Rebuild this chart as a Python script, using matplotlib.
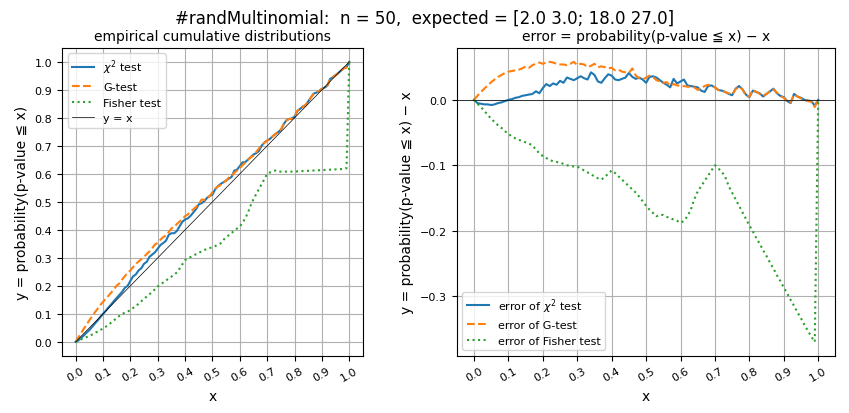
import numpy as np
import matplotlib
matplotlib.use("Agg")
import matplotlib.pyplot as plt

# grid of x values 0.00 .. 1.00
x = np.round(np.arange(0, 101) / 100, 2)

# error = probability(p-value <= x) - x
err_chi2 = [
    0.000, -0.005, -0.006, -0.007, -0.007, -0.008, -0.007, -0.005, -0.004, -0.002,
    0.000, 0.001, 0.003, 0.004, 0.006, 0.007, 0.008, 0.009, 0.013, 0.010,
    0.018, 0.024, 0.021, 0.025, 0.023, 0.029, 0.026, 0.034, 0.032, 0.030,
    0.033, 0.036, 0.033, 0.031, 0.042, 0.038, 0.028, 0.026, 0.033, 0.039,
    0.037, 0.031, 0.030, 0.032, 0.034, 0.041, 0.035, 0.032, 0.034, 0.031,
    0.026, 0.035, 0.036, 0.034, 0.030, 0.026, 0.023, 0.019, 0.032, 0.025,
    0.028, 0.031, 0.022, 0.021, 0.020, 0.019, 0.014, 0.012, 0.021, 0.022,
    0.019, 0.015, 0.014, 0.012, 0.009, 0.007, 0.017, 0.021, 0.016, 0.008,
    0.004, 0.014, 0.012, 0.010, 0.005, 0.009, 0.013, 0.017, 0.010, 0.006,
    0.004, -0.002, -0.005, 0.009, 0.005, 0.003, 0.000, -0.001, -0.002, -0.009,
    0.000,
]
err_g = [
    0.000, 0.006, 0.012, 0.017, 0.022, 0.027, 0.031, 0.035, 0.038, 0.041,
    0.043, 0.044, 0.045, 0.046, 0.048, 0.051, 0.049, 0.053, 0.055, 0.057,
    0.055, 0.057, 0.058, 0.057, 0.055, 0.054, 0.054, 0.053, 0.055, 0.058,
    0.053, 0.055, 0.054, 0.050, 0.052, 0.055, 0.050, 0.051, 0.050, 0.048,
    0.049, 0.045, 0.046, 0.043, 0.042, 0.041, 0.048, 0.037, 0.033, 0.031,
    0.034, 0.037, 0.035, 0.030, 0.028, 0.026, 0.027, 0.022, 0.024, 0.022,
    0.021, 0.021, 0.020, 0.020, 0.019, 0.015, 0.018, 0.021, 0.023, 0.021,
    0.019, 0.015, 0.014, 0.012, 0.010, 0.008, 0.016, 0.020, 0.016, 0.006,
    0.005, 0.015, 0.012, 0.009, 0.006, 0.009, 0.013, 0.016, 0.011, 0.006,
    0.003, -0.003, -0.004, 0.008, 0.005, 0.002, 0.000, -0.002, -0.003, -0.011,
    0.000,
]
err_fisher = [
    0.000, -0.006, -0.011, -0.017, -0.023, -0.029, -0.034, -0.039, -0.043, -0.048,
    -0.052, -0.056, -0.059, -0.061, -0.063, -0.065, -0.067, -0.070, -0.076, -0.082,
    -0.086, -0.089, -0.092, -0.094, -0.095, -0.096, -0.098, -0.100, -0.101, -0.102,
    -0.102, -0.105, -0.108, -0.111, -0.114, -0.117, -0.120, -0.122, -0.118, -0.113,
    -0.108, -0.112, -0.117, -0.122, -0.127, -0.132, -0.137, -0.142, -0.148, -0.155,
    -0.162, -0.168, -0.173, -0.178, -0.176, -0.176, -0.179, -0.181, -0.183, -0.185,
    -0.188, -0.185, -0.178, -0.168, -0.152, -0.140, -0.132, -0.124, -0.116, -0.108,
    -0.100, -0.105, -0.110, -0.118, -0.132, -0.142, -0.152, -0.162, -0.172, -0.182,
    -0.192, -0.201, -0.211, -0.220, -0.230, -0.239, -0.249, -0.258, -0.268, -0.277,
    -0.287, -0.296, -0.306, -0.315, -0.325, -0.334, -0.344, -0.353, -0.362, -0.370,
    0.000,
]

err_chi2 = np.array(err_chi2)
err_g = np.array(err_g)
err_fisher = np.array(err_fisher)

ticks = np.round(np.arange(0, 11) / 10, 1)

fig = plt.figure(figsize=(8.49, 4.14), dpi=100)
ax1 = fig.add_axes([0.073, 0.138, 0.3545, 0.744])
ax2 = fig.add_axes([0.538, 0.138, 0.446, 0.744])

fig.suptitle("#randMultinomial:  n = 50,  expected = [2.0 3.0; 18.0 27.0]",
             fontsize=12, y=0.975)

# empirical cdfs
ax1.plot(x, x + err_chi2, "-", label=r"$\chi^2$ test")
ax1.plot(x, x + err_g, "--", label="G-test")
ax1.plot(x, x + err_fisher, ":", label="Fisher test")
ax1.plot(x, x, "k-", lw=0.5, label="y = x")
ax1.set_title("empirical cumulative distributions", fontsize=10)
ax1.set_xlabel("x")
ax1.set_ylabel("y = probability(p-value ≦ x)")
ax1.set_xticks(ticks)
ax1.set_yticks(ticks)
ax1.tick_params(axis="x", labelrotation=30, labelsize=8)
ax1.tick_params(axis="y", labelsize=8)
ax1.grid(True)
ax1.legend(loc="upper left", fontsize=8)

# errors
ax2.plot(x, err_chi2, "-", label=r"error of $\chi^2$ test")
ax2.plot(x, err_g, "--", label="error of G-test")
ax2.plot(x, err_fisher, ":", label="error of Fisher test")
ax2.axhline(0, color="k", lw=0.5)
ax2.set_title("error = probability(p-value ≦ x) − x", fontsize=10)
ax2.set_xlabel("x")
ax2.set_ylabel("y = probability(p-value ≦ x) − x")
ax2.set_xticks(ticks)
ax2.tick_params(axis="x", labelrotation=30, labelsize=8)
ax2.tick_params(axis="y", labelsize=8)
ax2.grid(True)
ax2.legend(loc="lower left", fontsize=8)

fig.savefig("out.png", dpi=100)
